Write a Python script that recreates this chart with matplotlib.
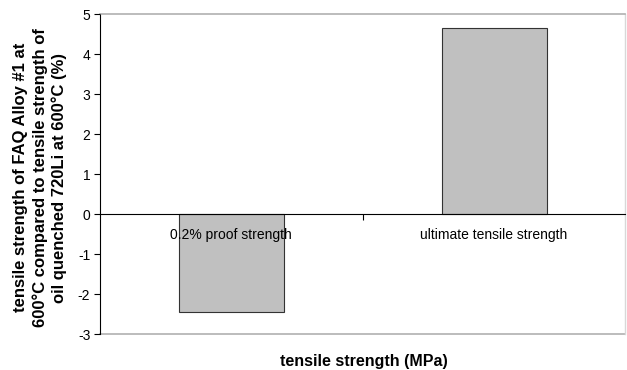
import matplotlib.pyplot as plt

plt.rcParams['font.family'] = ['Liberation Sans', 'DejaVu Sans']

categories = ['0.2% proof strength', 'ultimate tensile strength']
values = [-2.45, 4.65]
yticks = [-3, -2, -1, 0, 1, 2, 3, 4, 5]

fig = plt.figure(figsize=(6.27, 3.70), dpi=100)
ax = fig.add_axes([0.1595, 0.097, 0.838, 0.865])
ax.set_axisbelow(False)

x = list(range(len(categories)))
ax.bar(x, values, width=0.4, color='#c0c0c0', edgecolor='#333333', linewidth=0.8, zorder=1)

ax.set_xlim(-0.5, len(categories) - 0.5)
ax.set_ylim(-3, 5)
ax.set_yticks(yticks)
ax.set_yticklabels([str(v) for v in yticks], fontsize=10)
ax.tick_params(axis='y', direction='out', length=4, width=0.8, pad=3)

# x axis sits on zero, ticks between categories, labels at centres
ax.spines['bottom'].set_position(('data', 0))
ax.spines['bottom'].set_linewidth(0.8)
ax.set_xticks([i + 0.5 for i in range(len(categories) - 1)])
ax.set_xticklabels([])
ax.tick_params(axis='x', which='major', direction='out', length=4, width=0.8)
ax.set_xticks(x, minor=True)
ax.set_xticklabels(categories, minor=True, fontsize=10)
ax.tick_params(axis='x', which='minor', length=0, pad=10)

# plot area border (grey)
ax.spines['top'].set_color('#b0b0b0')
ax.spines['top'].set_linewidth(1.2)
ax.spines['right'].set_color('#d8d8d8')
ax.spines['right'].set_linewidth(1.0)
ax.axhline(-3, color='#b0b0b0', linewidth=1.2, clip_on=False, zorder=0.5)
ax.spines['left'].set_linewidth(0.8)

fig.text(0.581, 0.022, 'tensile strength (MPa)', ha='center', va='center',
         fontsize=11.5, fontweight='bold')
fig.text(0.064, 0.52, 'tensile strength of FAQ Alloy #1 at\n600°C compared to tensile strength of\noil quenched 720Li at 600°C (%)',
         ha='center', va='center', rotation=90, fontsize=12, fontweight='bold',
         linespacing=1.3)

fig.savefig('out.png', dpi=100)
